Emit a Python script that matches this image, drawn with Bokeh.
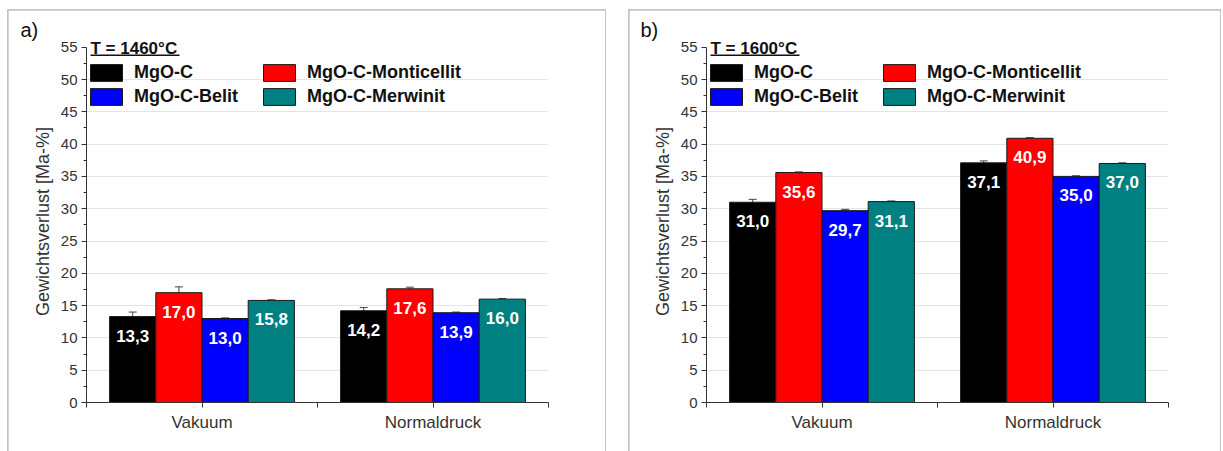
from bokeh.plotting import figure
from bokeh.models import (ColumnDataSource, FixedTicker, Label, LabelSet, Legend,
                          LegendItem, Whisker, TeeHead, Arrow, Range1d)
from bokeh.core.properties import value
from bokeh.layouts import row
from bokeh.embed import file_html
from bokeh.resources import INLINE

# --- data -------------------------------------------------------------
conditions = ["Vakuum", "Normaldruck"]
materials = ["MgO-C", "MgO-C-Monticellit", "MgO-C-Belit", "MgO-C-Merwinit"]
colors = ["#000000", "#ff0000", "#0000ff", "#008080"]

# weight loss [Ma-%] per material, values for (Vakuum, Normaldruck)
loss_1460 = [[13.3, 14.2], [17.0, 17.6], [13.0, 13.9], [15.8, 16.0]]
err_1460 = [[0.7, 0.5], [0.9, 0.25], [0.1, 0.1], [0.1, 0.1]]
loss_1600 = [[31.0, 37.1], [35.6, 40.9], [29.7, 35.0], [31.1, 37.0]]
err_1600 = [[0.45, 0.3], [0.1, 0.1], [0.2, 0.1], [0.1, 0.1]]

y_ticks = list(range(0, 56, 5))
Y_MAX = 55

FONT = "Liberation Sans"
BAR_W = 0.2
OFFSETS = [-0.3, -0.1, 0.1, 0.3]
PX_PER_UNIT = 6.46


def panel(tag, temp, loss, err, width, left):
    frame_w, frame_h = 462, 362
    top = 30
    # a little head room above the last tick for the heading
    y_end = frame_h / PX_PER_UNIT
    p = figure(width=width, height=441, output_backend="svg", toolbar_location=None,
               x_range=Range1d(0, len(conditions)), y_range=Range1d(0, y_end),
               min_border_left=left, min_border_right=width - left - frame_w,
               min_border_top=top, min_border_bottom=441 - top - frame_h,
               background_fill_color="white", border_fill_color="white",
               outline_line_color=None, title=tag)
    p.title.align = "left"
    p.title.offset = -66
    p.title.standoff = 0
    p.title.text_font = FONT
    p.title.text_font_style = "normal"
    p.title.text_font_size = "20px"
    p.title.text_color = "#111111"

    legend_items = []
    for k, mat in enumerate(materials):
        xs = [i + 0.5 + OFFSETS[k] for i in range(len(conditions))]
        src = ColumnDataSource(dict(
            x=xs, top=loss[k],
            upper=[v + e for v, e in zip(loss[k], err[k])],
            lower=[v - e for v, e in zip(loss[k], err[k])],
            txt=[f"{v:.1f}".replace(".", ",") for v in loss[k]],
        ))
        w = Whisker(base="x", upper="upper", lower="lower", source=src,
                    line_color="#444444", line_width=1, level="underlay",
                    upper_head=TeeHead(size=8, line_color="#444444", line_width=1),
                    lower_head=None)
        p.add_layout(w)
        r = p.vbar(x="x", top="top", width=BAR_W, bottom=0, source=src,
                   fill_color=colors[k], line_color="#1a1a1a", line_width=1)
        labels = LabelSet(x="x", y="top", text="txt", source=src, y_offset=-19,
                          text_align="center", text_baseline="middle",
                          text_color="white", text_font=value(FONT),
                          text_font_style="bold", text_font_size="17px")
        p.add_layout(labels)
        legend_items.append(LegendItem(label=mat, renderers=[r]))

    # two-column legend, built as two legends side by side
    for col, items in enumerate([[legend_items[0], legend_items[2]],
                                 [legend_items[1], legend_items[3]]]):
        lg = Legend(items=items, location=(col * 173, 295),
                    glyph_width=40, glyph_height=21, label_height=21,
                    label_standoff=8, spacing=3, padding=0, margin=0,
                    border_line_alpha=0, background_fill_alpha=0,
                    label_text_font=FONT, label_text_font_style="bold",
                    label_text_font_size="18px", label_text_color="#111111")
        p.add_layout(lg, "center")

    # temperature heading, underlined
    top55 = Y_MAX * PX_PER_UNIT
    p.add_layout(Label(x=4, y=top55 - 1, x_units="screen", y_units="screen",
                       text=temp, text_baseline="middle", text_font=FONT,
                       text_font_style="bold", text_font_size="17px",
                       text_color="#111111"))
    p.add_layout(Arrow(x_start=4, y_start=top55 - 8, x_end=93, y_end=top55 - 8,
                       start_units="screen", end_units="screen", end=None,
                       line_color="#111111", line_width=1.5))

    # axes
    p.yaxis.bounds = (0, Y_MAX)
    p.yaxis.ticker = FixedTicker(ticks=y_ticks,
                                 minor_ticks=[t + 2.5 for t in y_ticks[:-1]])
    p.yaxis.axis_label = "Gewichtsverlust [Ma-%]"
    p.yaxis.axis_label_text_font = FONT
    p.yaxis.axis_label_text_font_style = "normal"
    p.yaxis.axis_label_text_font_size = "18px"
    p.yaxis.axis_label_text_color = "#333333"
    p.yaxis.axis_label_standoff = 5
    p.xaxis.ticker = FixedTicker(ticks=[i + 0.5 for i in range(len(conditions))],
                                 minor_ticks=list(range(len(conditions) + 1)))
    p.xaxis.major_label_overrides = {i + 0.5: c for i, c in enumerate(conditions)}
    p.xaxis.major_label_text_font_size = "17px"
    p.yaxis.major_label_text_font_size = "15px"
    for ax in (p.xaxis, p.yaxis):
        ax.major_label_text_font = FONT
        ax.major_label_text_color = "#333333"
        ax.axis_line_color = "#333333"
        ax.major_tick_line_color = "#333333"
        ax.minor_tick_line_color = "#333333"
        ax.major_tick_in = 0
        ax.major_tick_out = 5
        ax.minor_tick_in = 0
    p.yaxis.minor_tick_out = 3
    p.xaxis.minor_tick_out = 5
    p.yaxis.major_label_standoff = 4
    p.xaxis.major_label_standoff = 5

    p.xgrid.grid_line_color = None
    p.ygrid.ticker = FixedTicker(ticks=y_ticks[:-1])
    p.ygrid.grid_line_color = "#e4e4e4"
    p.ygrid.grid_line_width = 1
    return p


pa = panel("a)", "T = 1460°C", loss_1460, err_1460, 597, 78)
pb = panel("b)", "T = 1600°C", loss_1600, err_1600, 591, 77)
pa.margin = (10, 0, 0, 8)
pb.margin = (10, 0, 0, 24)
for fig in (pa, pb):
    fig.styles = {"outline": "2px solid #c4c4c4", "outline-offset": "-1px"}

layout = row(pa, pb)
open("out.html", "w").write(file_html(layout, INLINE))
